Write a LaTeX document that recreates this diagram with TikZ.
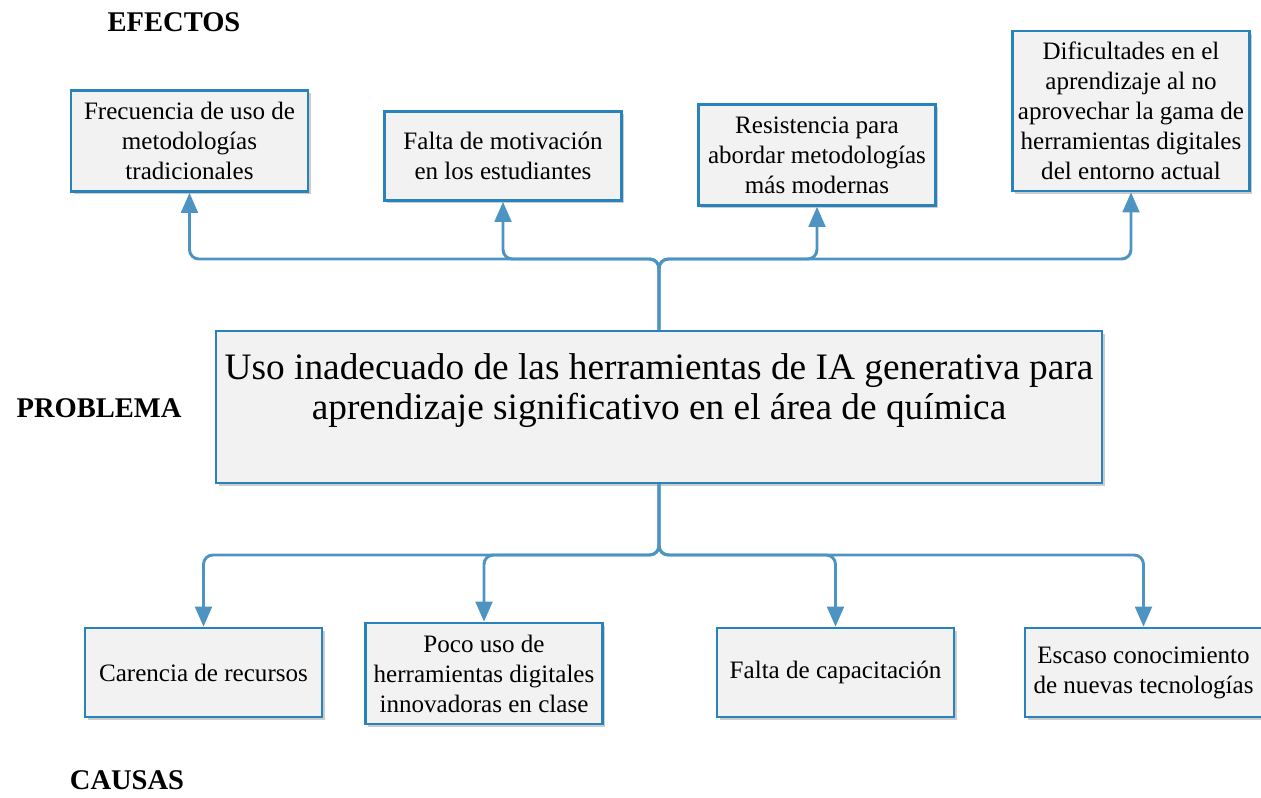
\documentclass[tikz,border=0pt]{standalone}
\usepackage{fontspec}
\setmainfont{Liberation Serif}
\usetikzlibrary{arrows.meta,shadows}

\definecolor{boxblue}{RGB}{40,130,188}
\definecolor{lineblue}{RGB}{78,148,194}
\definecolor{boxgray}{RGB}{242,242,242}

\begin{document}
\begin{tikzpicture}[
    x=0.75pt, y=-0.75pt,
    box/.style={rectangle, draw=boxblue, line width=2pt, fill=boxgray, align=center,
        minimum width=177.75pt, minimum height=66.75pt, inner sep=2pt,
        font=\fontsize{18.8}{22.5}\selectfont,
        drop shadow={shadow xshift=2pt, shadow yshift=-2pt, opacity=0.2, fill=black}},
    probbox/.style={box, minimum width=664.5pt, minimum height=114pt},
    probtext/.style={align=center, inner sep=0pt, font=\fontsize{28}{30}\selectfont},
    header/.style={font=\fontsize{21.4}{24}\selectfont\bfseries},
    conn/.style={draw=lineblue, line width=2.2pt, rounded corners=7pt,
        -{Triangle[width=12.5pt, length=15pt]}}
]
\useasboundingbox (0,0) rectangle (1261,797);

% Titles
\node[header] (efectos) at (174,22) {EFECTOS};
\node[header] (problema) at (99,408) {PROBLEMA};
\node[header] (causas) at (127,780) {CAUSAS};

% Effects
\node[box, minimum height=75.75pt] (efe1) at (189.5,141) {Frecuencia de uso de\\metodologías\\tradicionales};
\node[box] (efe2) at (503,156) {Falta de motivación\\en los estudiantes};
\node[box, minimum height=75.75pt] (efe3) at (817,155) {Resistencia para\\abordar metodologías\\más modernas};
\node[box, minimum height=120pt] (efe4) at (1131,111) {Dificultades en el\\aprendizaje al no\\aprovechar la gama de\\herramientas digitales\\del entorno actual};

% Problem
\node[probbox] (prob) at (659,407) {};
\node[probtext] (probtxt) at (659,391) {Uso inadecuado de las herramientas de IA generativa para\\aprendizaje significativo en el área de química};

% Causes
\node[box] (cau1) at (203.5,672.5) {Carencia de recursos};
\node[box, minimum height=75.75pt] (cau2) at (484,673.5) {Poco uso de\\herramientas digitales\\innovadoras en clase};
\node[box] (cau3) at (835.5,672.5) {Falta de capacitación};
\node[box] (cau4) at (1143.5,672.5) {Escaso conocimiento\\de nuevas tecnologías};

% Junctions
\coordinate (up) at (659,259);
\coordinate (down) at (659,555);

% Connectors
\foreach \n in {efe1,efe2,efe3,efe4}
    \draw[conn] (prob.north) -- (up) -| (\n.south);
\foreach \n in {cau1,cau2,cau3,cau4}
    \draw[conn] (prob.south) -- (down) -| (\n.north);

\end{tikzpicture}
\end{document}
